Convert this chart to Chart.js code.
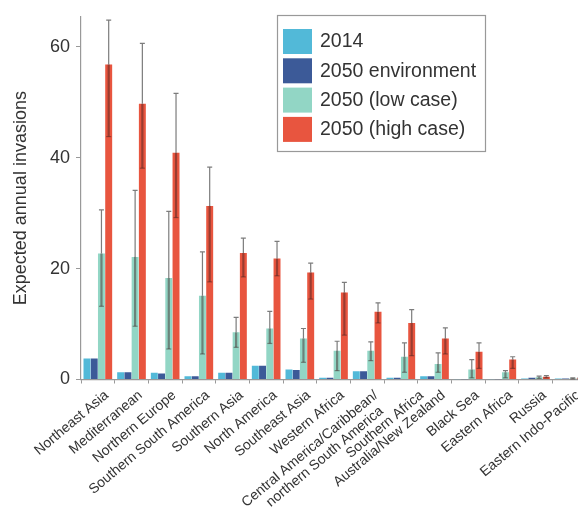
<!DOCTYPE html>
<html>
<head>
<meta charset="utf-8">
<script src="https://cdn.jsdelivr.net/npm/chart.js@4.4.0/dist/chart.umd.min.js"></script>
<style>
  html, body { margin: 0; padding: 0; background: #fff; overflow: hidden; }
  #wrap { position: relative; width: 590px; height: 511px; }
</style>
</head>
<body>
<div id="wrap"><canvas id="grafica"></canvas></div>
<script>
// datos
const regiones = [
    'Northeast Asia',
    'Mediterranean',
    'Northern Europe',
    'Southern South America',
    'Southern Asia',
    'North America',
    'Southeast Asia',
    'Western Africa',
    ['Central America/Caribbean/', 'northern South America'],
    'Southern Africa',
    'Australia/New Zealand',
    'Black Sea',
    'Eastern Africa',
    'Russia',
    'Eastern Indo-Pacific'
];
const series = ['2014', '2050 environment', '2050 (low case)', '2050 (high case)'];

const v2014 = [3.8, 1.3, 1.2, 0.6, 1.2, 2.5, 1.8, 0.3, 1.5, 0.3, 0.6, 0.05, 0.05, 0.2, 0.2];
const vEnv  = [3.8, 1.3, 1.1, 0.6, 1.2, 2.5, 1.7, 0.3, 1.5, 0.3, 0.6, 0.05, 0.05, 0.3, 0.2];
const vLow  = [22.7, 22.1, 18.3, 15.1, 8.5, 9.2, 7.4, 5.2, 5.2, 4.1, 2.8, 1.8, 1.3, 0.4, 0.2];
const vHigh = [56.8, 49.7, 40.9, 31.3, 22.8, 21.8, 19.3, 15.7, 12.2, 10.2, 7.4, 5.0, 3.6, 0.5, 0.2];

// barras de error (minimo, maximo)
const lowMin  = [13.2, 9.6, 5.5, 4.6, 5.8, 6.5, 3.1, 1.6, 3.4, 1.3, 1.3, 0.3, 0.3, 0.2, 0.1];
const lowMax  = [30.6, 34.1, 30.3, 23.0, 11.2, 12.3, 9.2, 6.9, 6.8, 6.6, 4.8, 3.6, 1.6, 0.6, 0.3];
const highMin = [43.8, 38.1, 29.2, 17.6, 18.5, 18.7, 14.5, 8.0, 10.2, 4.3, 4.6, 2.0, 2.0, 0.3, 0.1];
const highMax = [64.8, 60.6, 51.6, 38.3, 25.5, 24.9, 21.0, 17.5, 13.8, 12.6, 9.3, 6.6, 4.1, 0.7, 0.3];

const yTicks = [0, 20, 40, 60];

const colores = ['#52b9d8', '#3c5a98', '#92d6c5', '#e8553f'];
const fuente = '"Liberation Sans", Arial, sans-serif';
const gris = '#333';

// dibuja las barras de error
const errorBars = {
    id: 'errorBars',
    afterDatasetsDraw(chart) {
        const ctx = chart.ctx;
        const y = chart.scales.y;
        chart.data.datasets.forEach(function (ds, i) {
            if (!ds.errMin) return;
            const meta = chart.getDatasetMeta(i);
            meta.data.forEach(function (bar, j) {
                const top = y.getPixelForValue(ds.errMax[j]);
                const bot = y.getPixelForValue(ds.errMin[j]);
                const barTop = y.getPixelForValue(ds.data[j]);
                ctx.save();
                ctx.lineWidth = 1.2;
                // parte sobre la barra
                ctx.strokeStyle = 'rgba(110,110,110,0.9)';
                ctx.beginPath();
                ctx.moveTo(bar.x, top);
                ctx.lineTo(bar.x, barTop);
                ctx.moveTo(bar.x - 2.5, top);
                ctx.lineTo(bar.x + 2.5, top);
                ctx.stroke();
                // parte dentro de la barra
                ctx.strokeStyle = 'rgba(60,30,30,0.45)';
                ctx.lineWidth = 2.2;
                ctx.beginPath();
                ctx.moveTo(bar.x, barTop);
                ctx.lineTo(bar.x, bot);
                ctx.stroke();
                ctx.lineWidth = 1.2;
                ctx.beginPath();
                ctx.moveTo(bar.x - 2.5, bot);
                ctx.lineTo(bar.x + 2.5, bot);
                ctx.stroke();
                ctx.restore();
            });
        });
    }
};

// etiquetas del eje x giradas 40 grados
// la que sigue a una etiqueta de dos lineas se corre un poco para no pisarla
const etiquetasX = {
    id: 'etiquetasX',
    afterDraw(chart) {
        const ctx = chart.ctx;
        const x = chart.scales.x;
        const ang = -40 * Math.PI / 180;
        const lh = 15.6;
        const labels = chart.data.labels;
        ctx.save();
        ctx.font = '14px ' + fuente;
        ctx.fillStyle = gris;
        ctx.textAlign = 'right';
        ctx.textBaseline = 'middle';
        labels.forEach(function (lab, i) {
            const lineas = Array.isArray(lab) ? lab : [lab];
            const extra = (i > 0 && Array.isArray(labels[i - 1])) ? 12 : 0;
            ctx.save();
            ctx.translate(x.getPixelForTick(i) + 9 + extra, x.top + 14);
            ctx.rotate(ang);
            lineas.forEach(function (t, k) {
                ctx.fillText(t, -k * 6, k * lh);
            });
            ctx.restore();
        });
        ctx.restore();
    }
};

// leyenda con marco dentro del area
const leyenda = {
    id: 'leyenda',
    afterDraw(chart) {
        const ctx = chart.ctx;
        ctx.save();
        ctx.fillStyle = '#fff';
        ctx.fillRect(277, 15, 208, 137);
        ctx.strokeStyle = '#999';
        ctx.lineWidth = 1.2;
        ctx.strokeRect(277.5, 15.5, 208, 136);
        ctx.font = '19.5px ' + fuente;
        ctx.textBaseline = 'middle';
        chart.data.datasets.forEach(function (ds, i) {
            const yy = 29 + i * 29.3;
            ctx.fillStyle = ds.backgroundColor;
            ctx.fillRect(283, yy, 29, 25);
            ctx.fillStyle = gris;
            ctx.fillText(ds.label, 320, yy + 13);
        });
        ctx.restore();
    }
};

const datos = {
    labels: regiones,
    datasets: [
        { label: series[0], data: v2014, backgroundColor: colores[0] },
        { label: series[1], data: vEnv, backgroundColor: colores[1] },
        { label: series[2], data: vLow, backgroundColor: colores[2], errMin: lowMin, errMax: lowMax },
        { label: series[3], data: vHigh, backgroundColor: colores[3], errMin: highMin, errMax: highMax }
    ]
};

const config = {
    type: 'bar',
    data: datos,
    options: {
        responsive: true,
        maintainAspectRatio: false,
        animation: false,
        layout: { padding: { top: 12, right: 4, left: 0, bottom: 0 } },
        datasets: {
            bar: { categoryPercentage: 0.86, barPercentage: 0.96, borderWidth: 0 }
        },
        plugins: {
            legend: { display: false },
            tooltip: { enabled: false }
        },
        scales: {
            x: {
                grid: { drawOnChartArea: false, drawTicks: true, tickLength: 4, color: '#999' },
                border: { display: true, color: '#999', width: 1.2 },
                ticks: { display: false, autoSkip: false },
                afterFit: function (scale) { scale.height = 131.5; }
            },
            y: {
                min: 0,
                max: 65.4,
                afterBuildTicks: function (scale) {
                    scale.ticks = yTicks.map(function (v) { return { value: v }; });
                },
                grid: { drawOnChartArea: false, drawTicks: true, tickLength: 5, color: '#999' },
                border: { display: true, color: '#999', width: 1.2 },
                ticks: {
                    padding: 6,
                    color: gris,
                    font: { family: fuente, size: 18 }
                },
                title: {
                    display: true,
                    text: 'Expected annual invasions',
                    color: gris,
                    font: { family: fuente, size: 18 },
                    padding: { top: 10, bottom: 0 }
                },
                afterFit: function (scale) { scale.width = 81; }
            }
        }
    },
    plugins: [errorBars, etiquetasX, leyenda]
};

const chart = new Chart(document.getElementById('grafica').getContext('2d'), config);
</script>
</body>
</html>
